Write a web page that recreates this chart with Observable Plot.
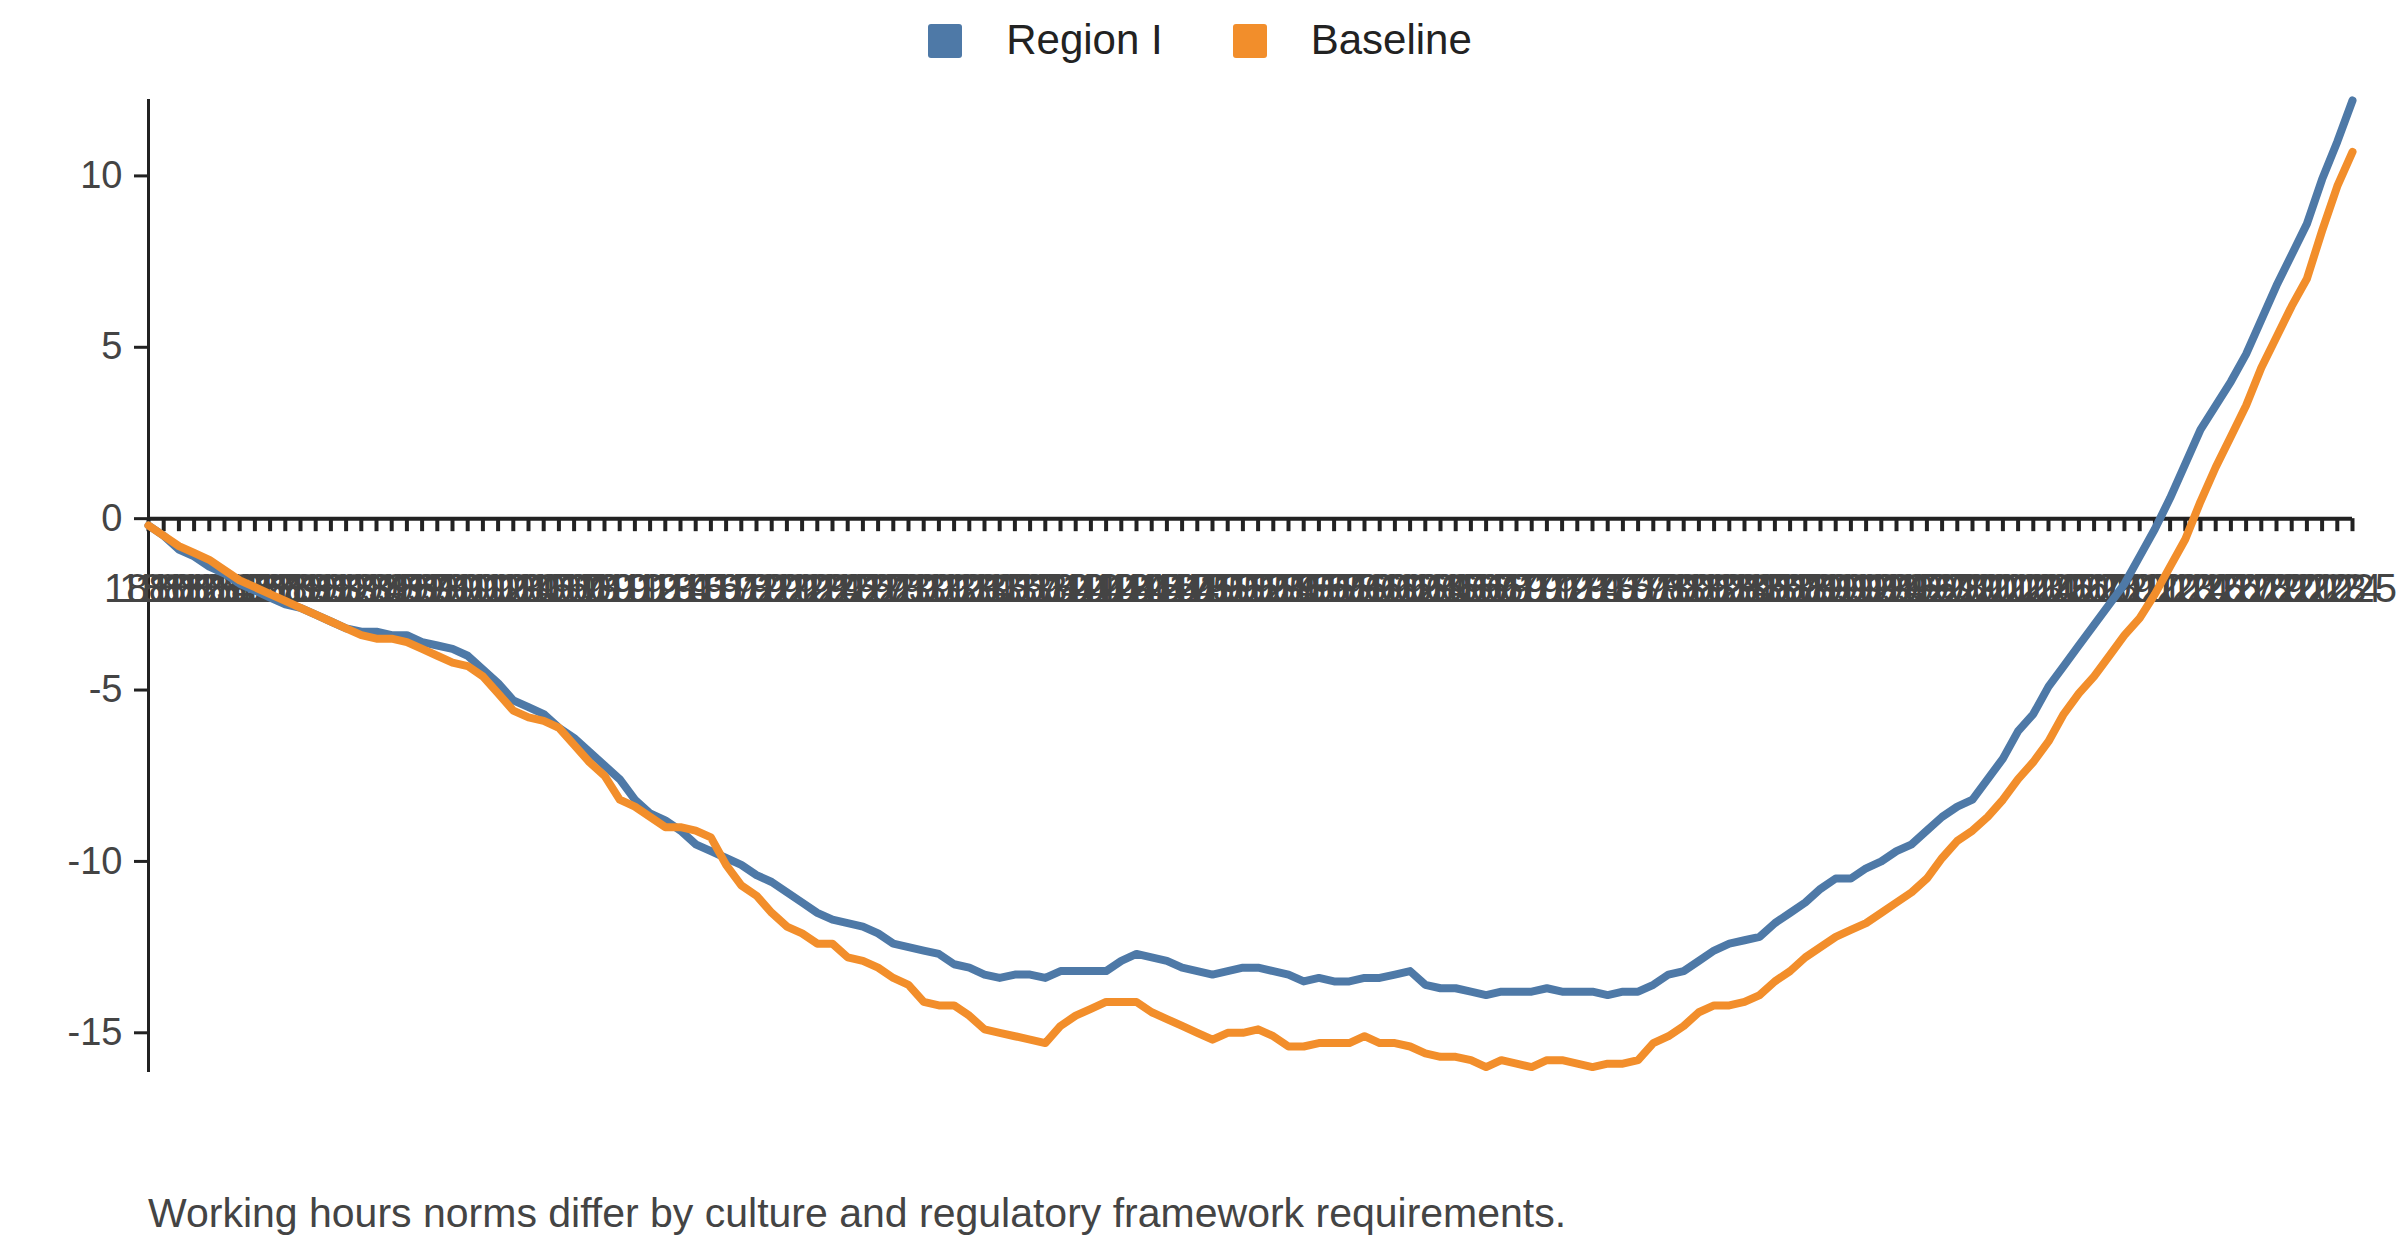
<!DOCTYPE html>
<html><head><meta charset="utf-8">
<script src="https://cdn.jsdelivr.net/npm/d3@7"></script>
<script src="https://cdn.jsdelivr.net/npm/@observablehq/plot@0.6"></script>
<style>
body{margin:0;background:#fff;font-family:Arial,"Liberation Sans",sans-serif;width:2400px;}
#legend{height:80px;display:flex;justify-content:center;align-items:center;gap:70px;font-size:42px;color:#222;padding-left:0px}
.sw{display:inline-block;width:34px;height:34px;margin-right:44px;vertical-align:-4px;border-radius:3px}
#cap{font-size:41px;color:#444;margin-left:148px;margin-top:100px}
</style></head><body>
<div id="legend"><span><span class="sw" style="background:#4e79a7"></span>Region I</span><span><span class="sw" style="background:#f28e2b"></span>Baseline</span></div>
<div id="chart"></div>
<div id="cap">Working hours norms differ by culture and regulatory framework requirements.</div>
<script>
const years = d3.range(1880, 2026);
const regionI = [-0.2,-0.5,-0.9,-1.1,-1.4,-1.6,-1.9,-2.1,-2.3,-2.5,-2.6,-2.8,-3.0,-3.2,-3.3,-3.3,-3.4,-3.4,-3.6,-3.7,-3.8,-4.0,-4.4,-4.8,-5.3,-5.5,-5.7,-6.1,-6.4,-6.8,-7.2,-7.6,-8.2,-8.6,-8.8,-9.1,-9.5,-9.7,-9.9,-10.1,-10.4,-10.6,-10.9,-11.2,-11.5,-11.7,-11.8,-11.9,-12.1,-12.4,-12.5,-12.6,-12.7,-13.0,-13.1,-13.3,-13.4,-13.3,-13.3,-13.4,-13.2,-13.2,-13.2,-13.2,-12.9,-12.7,-12.8,-12.9,-13.1,-13.2,-13.3,-13.2,-13.1,-13.1,-13.2,-13.3,-13.5,-13.4,-13.5,-13.5,-13.4,-13.4,-13.3,-13.2,-13.6,-13.7,-13.7,-13.8,-13.9,-13.8,-13.8,-13.8,-13.7,-13.8,-13.8,-13.8,-13.9,-13.8,-13.8,-13.6,-13.3,-13.2,-12.9,-12.6,-12.4,-12.3,-12.2,-11.8,-11.5,-11.2,-10.8,-10.5,-10.5,-10.2,-10.0,-9.7,-9.5,-9.1,-8.7,-8.4,-8.2,-7.6,-7.0,-6.2,-5.7,-4.9,-4.3,-3.7,-3.1,-2.5,-1.9,-1.1,-0.3,0.6,1.6,2.6,3.3,4.0,4.8,5.8,6.8,7.7,8.6,9.9,11.0,12.2];
const baseline = [-0.2,-0.5,-0.8,-1.0,-1.2,-1.5,-1.8,-2.0,-2.2,-2.4,-2.6,-2.8,-3.0,-3.2,-3.4,-3.5,-3.5,-3.6,-3.8,-4.0,-4.2,-4.3,-4.6,-5.1,-5.6,-5.8,-5.9,-6.1,-6.6,-7.1,-7.5,-8.2,-8.4,-8.7,-9.0,-9.0,-9.1,-9.3,-10.1,-10.7,-11.0,-11.5,-11.9,-12.1,-12.4,-12.4,-12.8,-12.9,-13.1,-13.4,-13.6,-14.1,-14.2,-14.2,-14.5,-14.9,-15.0,-15.1,-15.2,-15.3,-14.8,-14.5,-14.3,-14.1,-14.1,-14.1,-14.4,-14.6,-14.8,-15.0,-15.2,-15.0,-15.0,-14.9,-15.1,-15.4,-15.4,-15.3,-15.3,-15.3,-15.1,-15.3,-15.3,-15.4,-15.6,-15.7,-15.7,-15.8,-16.0,-15.8,-15.9,-16.0,-15.8,-15.8,-15.9,-16.0,-15.9,-15.9,-15.8,-15.3,-15.1,-14.8,-14.4,-14.2,-14.2,-14.1,-13.9,-13.5,-13.2,-12.8,-12.5,-12.2,-12.0,-11.8,-11.5,-11.2,-10.9,-10.5,-9.9,-9.4,-9.1,-8.7,-8.2,-7.6,-7.1,-6.5,-5.7,-5.1,-4.6,-4.0,-3.4,-2.9,-2.2,-1.4,-0.6,0.5,1.5,2.4,3.3,4.4,5.3,6.2,7.0,8.4,9.7,10.7];
const yTicks = [-15, -10, -5, 0, 5, 10];
const rows = [];
years.forEach((y, i) => { rows.push({year: y, value: regionI[i], series: "Region I"}); rows.push({year: y, value: baseline[i], series: "Baseline"}); });
const chart = Plot.plot({
  width: 2400, height: 1010,
  marginLeft: 148, marginRight: 48, marginTop: 20, marginBottom: 20,
  style: {fontSize: "38px", fontFamily: "Arial, 'Liberation Sans', sans-serif", color: "#444"},
  x: {domain: [1880, 2025], axis: null},
  y: {domain: [-16.1, 12.2], axis: null},
  color: {domain: ["Region I", "Baseline"], range: ["#4e79a7", "#f28e2b"]},
  marks: [
    Plot.axisY({ticks: yTicks, tickFormat: d => String(d), tickSize: 14, tickPadding: 12, label: null, stroke: "#222", strokeWidth: 3, fill: "#444", fontSize: 38}),
    Plot.frame({anchor: "left", stroke: "#222", strokeWidth: 3}),
    Plot.ruleY([0], {stroke: "#222", strokeWidth: 4}),
    Plot.ruleX(years, {x: d => d, y1: 0, y2: -0.38, stroke: "#222", strokeWidth: 4}),
    Plot.text(years, {x: d => d, y: -2.05, text: d => String(d), fill: "#444", fontSize: 40}),
    Plot.line(rows, {x: "year", y: "value", stroke: "series", z: "series", strokeWidth: 8})
  ]
});
document.getElementById("chart").appendChild(chart);
</script></body></html>
